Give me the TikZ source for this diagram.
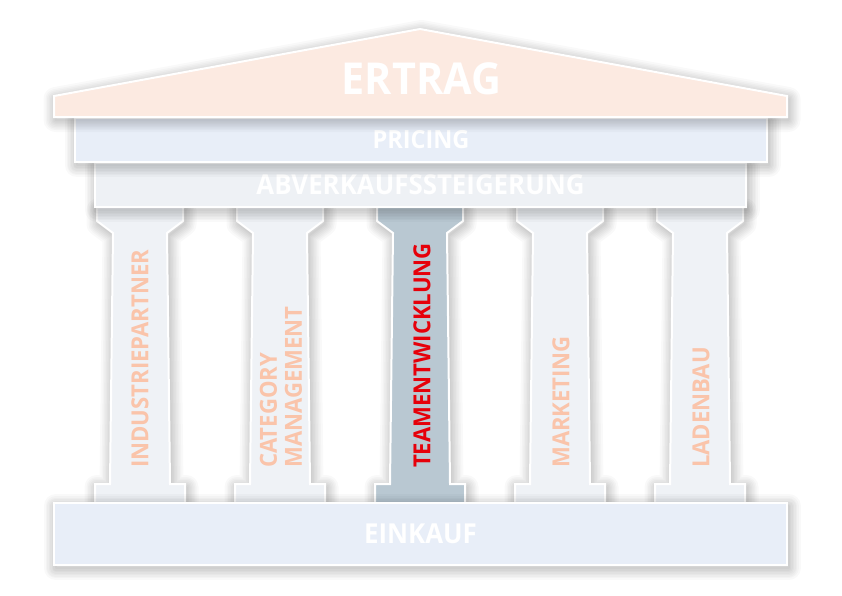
\documentclass[tikz,border=0pt]{standalone}
\usepackage{fontspec}
\setmainfont{Open Sans}[FakeStretch=0.94]
\definecolor{roofpeach}{RGB}{252,234,225}
\definecolor{barblue}{RGB}{232,238,248}
\definecolor{bargray}{RGB}{238,241,245}
\definecolor{pillarfill}{RGB}{239,242,246}
\definecolor{pillardark}{RGB}{185,200,210}
\definecolor{salmontext}{RGB}{250,196,170}
\definecolor{teamred}{RGB}{230,0,10}
\tikzset{
  shadering/.style={preaction={draw=black, draw opacity=0.022, line width=#1,
    line join=round, transform canvas={xshift=1.5pt, yshift=-3pt}}},
  part/.style={shadering=2pt, shadering=5pt, shadering=8pt, shadering=11pt,
    shadering=14pt, shadering=17pt, shadering=20pt, shadering=24pt,
    draw=white, line width=2pt, line join=miter},
  bar/.style={part, rectangle, inner sep=0pt, text=white,
    font=\bfseries\fontsize{27.5}{27.5}\selectfont},
  coltext/.style={rotate=90, anchor=west, align=left, inner sep=0pt,
    text=salmontext, font=\bfseries\fontsize{23.5}{25}\selectfont}
}
\begin{document}
\begin{tikzpicture}[x=1pt, y=-1pt]
\useasboundingbox (0,0) rectangle (842,595);
\fill[white] (0,0) rectangle (842,595);
\foreach \c/\col in {140/pillarfill, 280/pillarfill, 420/pillardark, 560/pillarfill, 700/pillarfill}
  \draw[part, fill=\col] (\c-43,207) -- (\c+43,207) -- (\c+43,221) -- (\c+27,233)
    -- (\c+30,484) -- (\c+45,484) -- (\c+45,503) -- (\c-45,503) -- (\c-45,484)
    -- (\c-30,484) -- (\c-27,233) -- (\c-43,221) -- cycle;
\node[coltext] (industrie) at (140,468) {INDUSTRIEPARTNER};
\node[coltext] (category) at (281,468) {CATEGORY\\MANAGEMENT};
\node[coltext, text=teamred] (team) at (422,468) {TEAMENTWICKLUNG};
\node[coltext] (marketing) at (561,468) {MARKETING};
\node[coltext] (ladenbau) at (701,468) {LADENBAU};
\node[bar, fill=barblue, minimum width=733pt, minimum height=62pt] (einkauf) at (420.5,534) {EINKAUF};
\node[bar, fill=bargray, minimum width=651pt, minimum height=44pt] (abverkauf) at (420.5,185) {ABVERKAUFSSTEIGERUNG};
\node[bar, fill=barblue, minimum width=692pt, minimum height=44pt, font=\bfseries\fontsize{25}{25}\selectfont] (pricing) at (421,140) {PRICING};
\draw[part, fill=roofpeach] (54,96) -- (420,29) -- (787,96) -- (787,117) -- (54,117) -- cycle;
\node[inner sep=0pt, text=white, font=\bfseries\fontsize{44}{44}\selectfont] (ertrag) at (421.5,78.5) {ERTRAG};
\end{tikzpicture}
\end{document}
